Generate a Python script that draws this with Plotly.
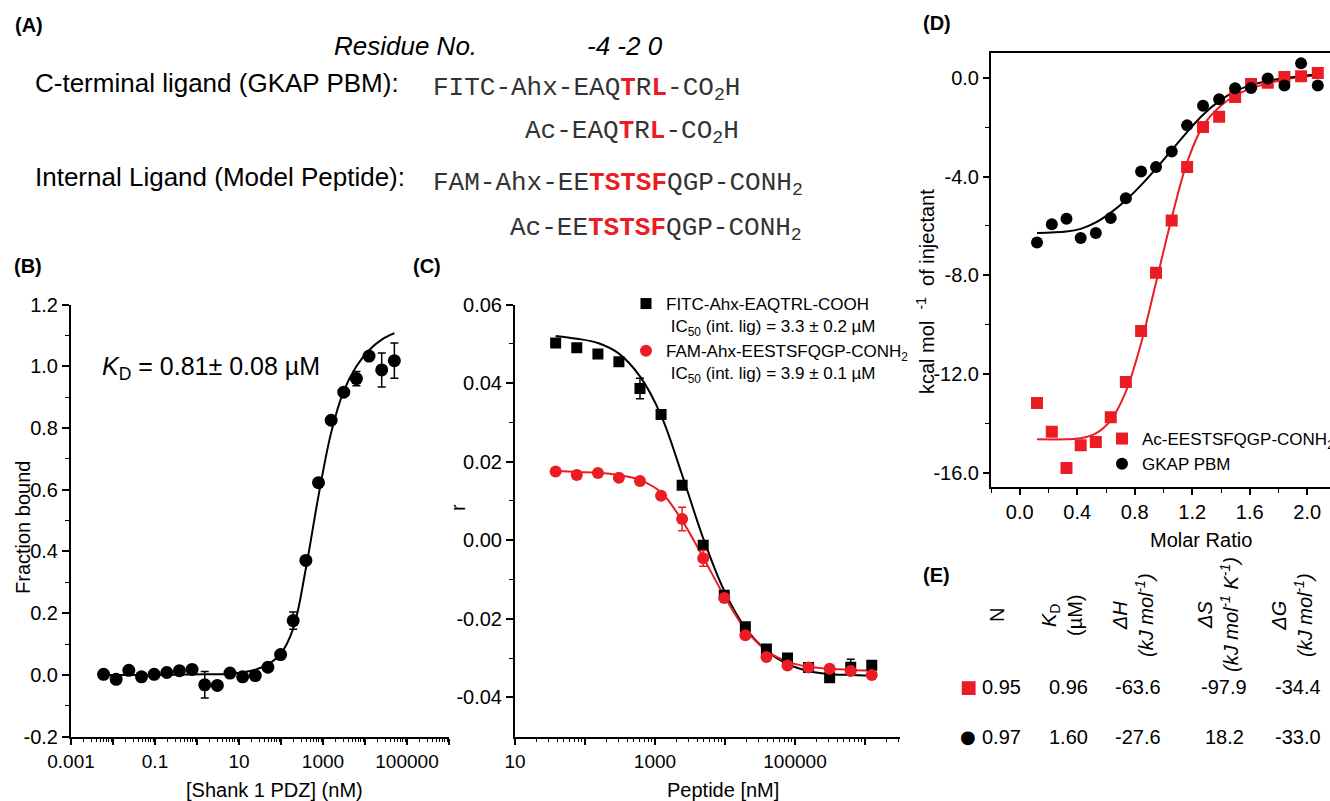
import plotly.graph_objects as go

W, H = 1330, 801
def PX(x): return x / W
def PY(y): return 1 - y / H

RED = "#ec1c24"
BLK = "#000000"
SANS = "Liberation Sans, Arial, Helvetica, sans-serif"
MONO = "Liberation Mono, Courier New, monospace"

# ---------------- Panel B data (fluorescence anisotropy, direct binding) ----------------
b_conc_nM = [0.00596, 0.0119, 0.0238, 0.0477, 0.0954, 0.191, 0.381, 0.763, 1.53, 3.05,
             6.10, 12.2, 24.4, 48.8, 97.7, 195, 391, 781, 1563, 3125, 6250, 12500, 25000, 50000]
b_fraction = [0.002, -0.014, 0.015, -0.006, 0.002, 0.008, 0.014, 0.018, -0.032, -0.034,
              0.006, -0.006, -0.002, 0.025, 0.066, 0.176, 0.371, 0.623, 0.825, 0.916,
              0.960, 1.033, 0.988, 1.018]
b_err = [0, 0, 0, 0, 0, 0, 0, 0, 0.043, 0, 0, 0, 0, 0, 0, 0.028, 0, 0, 0, 0,
         0.023, 0, 0.055, 0.057]
b_fit_conc = [0.00596, 0.0954, 1.53, 6.10, 24.4, 48.8, 97.7, 195, 391, 781, 1563, 3125,
              6250, 12500, 25000, 50000]
b_fit = [0.0, 0.0, 0.002, 0.004, 0.017, 0.034, 0.068, 0.150, 0.345, 0.580, 0.785, 0.920,
         1.000, 1.052, 1.086, 1.107]

# ---------------- Panel C data (competition) ----------------
c_conc_nM = [38.1, 76.3, 153, 305, 610, 1221, 2441, 4883, 9766, 19531, 39063, 78125,
             156250, 312500, 625000, 1250000]
c_fitc = [0.0502, 0.0490, 0.0474, 0.0454, 0.0386, 0.0320, 0.0140, -0.0013, -0.0140,
          -0.0220, -0.0277, -0.0300, -0.0324, -0.0350, -0.0323, -0.0318]
c_fitc_err = [0, 0, 0, 0, 0.0026, 0, 0, 0.001, 0, 0, 0, 0, 0, 0, 0.002, 0]
c_fam = [0.0175, 0.0166, 0.0171, 0.0159, 0.0151, 0.0113, 0.0054, -0.0046, -0.0147,
         -0.0242, -0.0297, -0.0319, -0.0324, -0.0327, -0.0333, -0.0343]
c_fam_err = [0, 0.001, 0, 0, 0, 0, 0.003, 0.002, 0.001, 0, 0, 0, 0, 0, 0, 0]
c_fit_fitc = [0.0520, 0.0513, 0.0502, 0.0475, 0.0417, 0.0318, 0.0166, 0.0005, -0.0129,
              -0.0223, -0.0281, -0.0315, -0.0333, -0.0341, -0.0343, -0.0345]
c_fit_fam = [0.0177, 0.0174, 0.0172, 0.0166, 0.0153, 0.0122, 0.0050, -0.0044, -0.0142,
             -0.0227, -0.0281, -0.0309, -0.0322, -0.0327, -0.0330, -0.0332]
c_names = ["FITC-Ahx-EAQTRL-COOH<br> IC<sub>50</sub> (int. lig) = 3.3 ± 0.2 µM",
           "FAM-Ahx-EESTSFQGP-CONH<sub>2</sub><br> IC<sub>50</sub> (int. lig) = 3.9 ± 0.1 µM"]

# ---------------- Panel D data (ITC) ----------------
d_ratio = [0.120, 0.223, 0.325, 0.424, 0.529, 0.633, 0.738, 0.844, 0.948, 1.057, 1.164,
           1.275, 1.387, 1.498, 1.609, 1.725, 1.841, 1.957, 2.073]
d_internal = [-13.17, -14.33, -15.80, -14.88, -14.75, -13.75, -12.32, -10.25, -7.90, -5.78,
              -3.62, -2.00, -1.58, -0.78, -0.25, -0.20, 0.03, 0.06, 0.19]
d_gkap = [-6.67, -5.93, -5.71, -6.49, -6.29, -5.68, -4.88, -3.80, -3.62, -2.99, -1.93,
          -1.14, -0.87, -0.43, -0.42, -0.03, -0.32, 0.58, -0.32]
d_fit_ratio = [0.120, 0.325, 0.424, 0.529, 0.633, 0.738, 0.844, 0.948, 1.057, 1.164, 1.275,
               1.387, 1.498, 1.609, 1.725, 1.841, 1.957, 2.073]
d_fit_internal = [-14.64, -14.64, -14.60, -14.40, -13.87, -12.71, -10.75, -8.29, -5.68,
                  -3.43, -1.95, -1.20, -0.72, -0.43, -0.23, -0.07, 0.03, 0.10]
d_fit_gkap = [-6.29, -6.23, -6.12, -5.86, -5.46, -4.96, -4.35, -3.68, -2.93, -2.20, -1.50,
              -0.95, -0.55, -0.30, -0.13, -0.02, 0.07, 0.13]
d_names = ["Ac-EESTSFQGP-CONH<sub>2</sub>", "GKAP PBM"]

# ---------------- Panel E table ----------------
e_headers = ["N", "<i>K</i><sub>D</sub><br>(µM)", "<i>ΔH</i><br><i>(kJ mol<sup>-1</sup>)</i>",
             "<i>ΔS</i><br><i>(kJ mol<sup>-1</sup> K<sup>-1</sup>)</i>",
             "<i>ΔG</i><br><i>(kJ mol<sup>-1</sup>)</i>"]
e_row_internal = ["0.95", "0.96", "-63.6", "-97.9", "-34.4"]
e_row_gkap = ["0.97", "1.60", "-27.6", "18.2", "-33.0"]

# ---------------- tick labels ----------------
b_xticks = [1e-3, 1e-2, 1e-1, 1, 10, 100, 1e3, 1e4, 1e5, 1e6]
b_xtext = ["0.001", "", "0.1", "", "10", "", "1000", "", "100000", ""]
c_xticks = [10, 100, 1e3, 1e4, 1e5, 1e6]
c_xtext = ["10", "", "1000", "", "100000", ""]
b_yticks = [-0.2, 0.0, 0.2, 0.4, 0.6, 0.8, 1.0, 1.2]
b_ytext = ["-0.2", "0.0", "0.2", "0.4", "0.6", "0.8", "1.0", "1.2"]
c_yticks = [-0.04, -0.02, 0.0, 0.02, 0.04, 0.06]
c_ytext = ["-0.04", "-0.02", "0.00", "0.02", "0.04", "0.06"]
d_xticks = [0.0, 0.4, 0.8, 1.2, 1.6, 2.0]
d_xtext = ["0.0", "0.4", "0.8", "1.2", "1.6", "2.0"]
d_yticks = [-16, -12, -8, -4, 0]
d_ytext = ["-16.0", "-12.0", "-8.0", "-4.0", "0.0"]


def log_minor(lo, hi):
    vals = []
    for d in range(lo, hi):
        for k in range(2, 10):
            vals.append(k * 10 ** d)
    return vals


fig = go.Figure()

# Panel B
fig.add_trace(go.Scatter(x=b_fit_conc, y=b_fit, mode="lines", line=dict(color=BLK, width=2, shape="spline"),
                         showlegend=False, xaxis="x", yaxis="y", hoverinfo="skip"))
fig.add_trace(go.Scatter(x=b_conc_nM, y=b_fraction, mode="markers",
                         marker=dict(symbol="circle", size=13, color=BLK),
                         error_y=dict(type="data", array=b_err, color=BLK, thickness=1.5, width=4),
                         showlegend=False, xaxis="x", yaxis="y"))

# Panel C
fig.add_trace(go.Scatter(x=c_conc_nM, y=c_fit_fitc, mode="lines", line=dict(color=BLK, width=2, shape="spline"),
                         showlegend=False, xaxis="x2", yaxis="y2", hoverinfo="skip"))
fig.add_trace(go.Scatter(x=c_conc_nM, y=c_fit_fam, mode="lines", line=dict(color=RED, width=2, shape="spline"),
                         showlegend=False, xaxis="x2", yaxis="y2", hoverinfo="skip"))
fig.add_trace(go.Scatter(x=c_conc_nM, y=c_fitc, mode="markers", name=c_names[0],
                         marker=dict(symbol="square", size=11, color=BLK),
                         error_y=dict(type="data", array=c_fitc_err, color=BLK, thickness=1.5, width=4),
                         legend="legend", xaxis="x2", yaxis="y2"))
fig.add_trace(go.Scatter(x=c_conc_nM, y=c_fam, mode="markers", name=c_names[1],
                         marker=dict(symbol="circle", size=12, color=RED),
                         error_y=dict(type="data", array=c_fam_err, color=RED, thickness=1.5, width=4),
                         legend="legend", xaxis="x2", yaxis="y2"))

# Panel D
fig.add_trace(go.Scatter(x=d_fit_ratio, y=d_fit_internal, mode="lines", line=dict(color=RED, width=2, shape="spline"),
                         showlegend=False, xaxis="x3", yaxis="y3", hoverinfo="skip"))
fig.add_trace(go.Scatter(x=d_fit_ratio, y=d_fit_gkap, mode="lines", line=dict(color=BLK, width=2, shape="spline"),
                         showlegend=False, xaxis="x3", yaxis="y3", hoverinfo="skip"))
fig.add_trace(go.Scatter(x=d_ratio, y=d_internal, mode="markers", name=d_names[0],
                         marker=dict(symbol="square", size=12, color=RED),
                         legend="legend2", xaxis="x3", yaxis="y3"))
fig.add_trace(go.Scatter(x=d_ratio, y=d_gkap, mode="markers", name=d_names[1],
                         marker=dict(symbol="circle", size=12, color=BLK),
                         legend="legend2", xaxis="x3", yaxis="y3"))

axis_common = dict(showline=True, linecolor=BLK, linewidth=2, ticks="outside", tickcolor=BLK,
                   tickwidth=1.5, showgrid=False, zeroline=False,
                   tickfont=dict(family=SANS, size=20, color=BLK))

fig.update_layout(
    xaxis=dict(axis_common, domain=[PX(71), PX(449)], type="log", range=[-3, 6], anchor="y",
               tickmode="array", tickvals=b_xticks, ticktext=b_xtext, ticklen=6,
               tickfont=dict(family=SANS, size=19, color=BLK),
               minor=dict(tickmode="array", tickvals=log_minor(-3, 6), ticks="outside", ticklen=3,
                          tickwidth=1.2, tickcolor=BLK)),
    yaxis=dict(axis_common, domain=[PY(736.7), PY(304.5)], range=[-0.2, 1.2], anchor="x",
               tickmode="array", tickvals=b_yticks, ticktext=b_ytext, ticklen=7,
               minor=dict(tickmode="array", tickvals=[-0.1, 0.1, 0.3, 0.5, 0.7, 0.9, 1.1],
                          ticks="outside", ticklen=4, tickwidth=1.2, tickcolor=BLK)),
    xaxis2=dict(axis_common, domain=[PX(515), PX(900)], type="log", range=[1, 6.5], anchor="y2",
                tickmode="array", tickvals=c_xticks, ticktext=c_xtext, ticklen=6,
                tickfont=dict(family=SANS, size=19, color=BLK),
                minor=dict(tickmode="array", tickvals=log_minor(1, 7), ticks="outside", ticklen=3,
                           tickwidth=1.2, tickcolor=BLK)),
    yaxis2=dict(axis_common, domain=[PY(736.7), PY(304.5)], range=[-0.05, 0.06], anchor="x2",
                tickmode="array", tickvals=c_yticks, ticktext=c_ytext, ticklen=7,
                minor=dict(tickmode="array", tickvals=[-0.03, -0.01, 0.01, 0.03, 0.05],
                           ticks="outside", ticklen=4, tickwidth=1.2, tickcolor=BLK)),
    xaxis3=dict(axis_common, domain=[PX(991), 1.0], range=[-0.2, 2.158], anchor="y3", mirror=True,
                tickmode="array", tickvals=d_xticks, ticktext=d_xtext, ticklen=6,
                minor=dict(tickmode="array", tickvals=[-0.2, 0.2, 0.6, 1.0, 1.4, 1.8],
                           ticks="outside", ticklen=4, tickwidth=1.2, tickcolor=BLK)),
    yaxis3=dict(axis_common, domain=[PY(486.5), PY(53)], range=[-16.55, 1.0], anchor="x3",
                tickmode="array", tickvals=d_yticks, ticktext=d_ytext, ticklen=6,
                minor=dict(tickmode="array", tickvals=[-14, -10, -6, -2],
                           ticks="outside", ticklen=4, tickwidth=1.2, tickcolor=BLK)),
    legend=dict(x=PX(626), y=PY(286), xanchor="left", yanchor="top", bgcolor="rgba(0,0,0,0)",
                borderwidth=0, valign="top", tracegroupgap=0,
                font=dict(family=SANS, size=17, color=BLK)),
    legend2=dict(x=PX(1102), y=PY(421), xanchor="left", yanchor="top", bgcolor="rgba(0,0,0,0)",
                 borderwidth=0, tracegroupgap=0,
                 font=dict(family=SANS, size=17, color=BLK)),
    width=W, height=H,
    margin=dict(l=0, r=0, t=0, b=0, autoexpand=False),
    paper_bgcolor="white", plot_bgcolor="white",
    font=dict(family=SANS, color=BLK),
    hovermode=False,
)

annots = []
def ann(text, x, y, size, xanchor="left", yanchor="middle", family=SANS, angle=0, color=BLK, align="left"):
    annots.append(dict(text=text, x=PX(x), y=PY(y), xref="paper", yref="paper", showarrow=False,
                       xanchor=xanchor, yanchor=yanchor, textangle=angle, align=align,
                       font=dict(family=family, size=size, color=color)))

def red(s):
    return '<span style="color:%s"><b>%s</b></span>' % (RED, s)

# Panel labels
ann("<b>(A)</b>", 29, 25, 20, xanchor="center")
ann("<b>(B)</b>", 28, 266, 20, xanchor="center")
ann("<b>(C)</b>", 427, 266, 20, xanchor="center")
ann("<b>(D)</b>", 937, 23, 20, xanchor="center")
ann("<b>(E)</b>", 936, 575, 20, xanchor="center")

# Panel A
ann("<i>Residue No.</i>", 332, 46, 26)
ann("<i>-4 -2 0</i>", 585, 46, 26)
ann("C-terminal ligand (GKAP PBM):", 33, 83, 26)
ann("Internal Ligand (Model Peptide):", 33, 177, 26)
ann("FITC-Ahx-EAQ" + red("T") + "R" + red("L") + "-CO<sub>2</sub>H", 431, 89, 26, family=MONO, color="#333333")
ann("Ac-EAQ" + red("T") + "R" + red("L") + "-CO<sub>2</sub>H", 523, 132, 26, family=MONO, color="#333333")
ann("FAM-Ahx-EE" + red("TSTSF") + "QGP-CONH<sub>2</sub>", 431, 184, 26, family=MONO, color="#333333")
ann("Ac-EE" + red("TSTSF") + "QGP-CONH<sub>2</sub>", 508, 229, 26, family=MONO, color="#333333")

# Panel B text
ann("<i>K</i><sub>D</sub> = 0.81± 0.08 µM", 100, 368, 25)
ann("Fraction bound", 23, 528, 20, xanchor="center", angle=-90)
ann("[Shank 1 PDZ] (nM)", 274, 790, 20, xanchor="center")

# Panel C text
ann("r", 458, 508, 20, xanchor="center", angle=-90)
ann("Peptide [nM]", 723, 790, 20, xanchor="center")

# Panel D text
ann("kcal mol&nbsp;&nbsp;<sup>-1</sup>&nbsp;&nbsp;of injectant", 925, 292, 20, xanchor="center", angle=-90)
ann("Molar Ratio", 1201, 540, 20, xanchor="center")

# Panel E table
e_header_x = [997, 1062, 1133, 1218, 1292]
e_value_x = [1002, 1068, 1138, 1224, 1298]
for txt, hx in zip(e_headers, e_header_x):
    ann(txt, hx, 615, 20, xanchor="center", angle=-90, align="center")
for txt, vx in zip(e_row_internal, e_value_x):
    ann(txt, vx, 687, 20, xanchor="center")
for txt, vx in zip(e_row_gkap, e_value_x):
    ann(txt, vx, 737, 20, xanchor="center")
ann("■", 968, 686, 18, xanchor="center", family="DejaVu Sans", color=RED)
ann("●", 968, 736, 18, xanchor="center", family="DejaVu Sans", color=BLK)

fig.update_layout(annotations=annots)

fig.write_html("out.html", config={"displayModeBar": False},
               post_script="document.body.style.margin='0';")
